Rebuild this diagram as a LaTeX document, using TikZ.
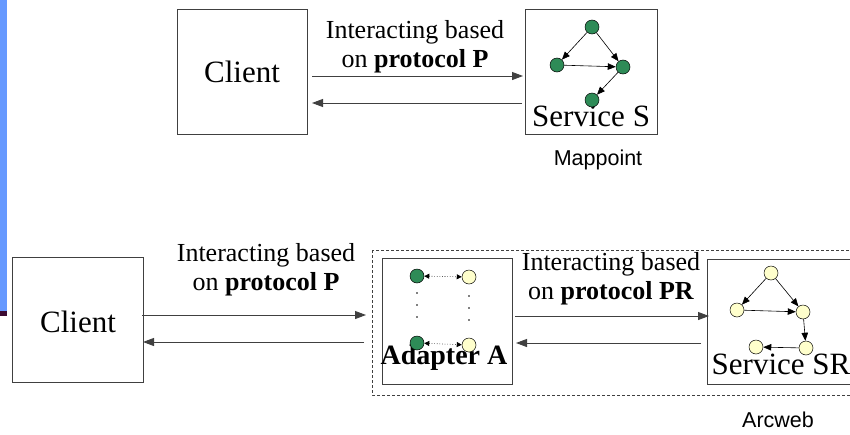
\documentclass[tikz,border=0pt]{standalone}
\usepackage{fontspec}
\setmainfont{Liberation Serif}
\newfontfamily\arialf{Liberation Sans}
\usetikzlibrary{arrows.meta}
\definecolor{nodegreen}{RGB}{46,139,87}
\definecolor{nodeyellow}{RGB}{255,255,204}
\definecolor{barblue}{RGB}{102,153,255}
\definecolor{barpurple}{RGB}{60,10,50}
\tikzset{
  box/.style={draw=black!75, line width=0.9pt},
  gnode/.style={circle, draw=black, fill=nodegreen, minimum size=14pt, inner sep=0pt, line width=0.5pt},
  ynode/.style={circle, draw=black, fill=nodeyellow, minimum size=14pt, inner sep=0pt, line width=0.5pt},
  conn/.style={draw=black!75, line width=0.9pt, -{Triangle[length=11pt,width=8pt]}},
  inarr/.style={draw=black, line width=0.6pt, -{Triangle[length=8pt,width=6.5pt]}},
  dotarr/.style={draw=black, line width=0.6pt, dotted, {Triangle[length=5pt,width=5pt]}-{Triangle[length=5pt,width=5pt]}},
  lbl/.style={font=\fontsize{26}{29}\selectfont, align=center, inner sep=0pt},
  big/.style={font=\fontsize{31}{34}\selectfont, inner sep=0pt},
  small/.style={font=\arialf\fontsize{21.5}{23}\selectfont, inner sep=0pt},
}
\begin{document}
\begin{tikzpicture}[x=1pt,y=-1pt]
\useasboundingbox (0,0) rectangle (850,434);
\fill[white] (0,0) rectangle (850,434);
% left bar
\fill[barblue] (0,0) rectangle (6.5,311);
\fill[barpurple] (0,311) rectangle (7,316);

% ---------- top part ----------
\draw[box] (177,9) rectangle (307,134);
\node[big] (client1) at (242,72) {Client};
\draw[box] (525,9) rectangle (657,134);
\node[big] (serviceS) at (591,116) {Service S};
\node[gnode] (s1) at (592,27) {};
\node[gnode] (s2) at (557,65) {};
\node[gnode] (s3) at (623,67) {};
\node[gnode] (s4) at (592,100) {};
\draw[inarr] (s1) -- (s2);
\draw[inarr] (s1) -- (s3);
\draw[inarr] (s2) -- (s3);
\draw[inarr] (s3) -- (s4);
\node[small] (mappoint) at (598,160) {Mappoint};

\coordinate (a1s) at (312,76);
\coordinate (a1e) at (523,76);
\coordinate (b1s) at (522,103);
\coordinate (b1e) at (312,103);
\draw[conn] (a1s) -- (a1e);
\draw[conn] (b1s) -- (b1e);
\node[lbl] (t1) at (415,47) {Interacting based\\on \textbf{protocol P}};

% ---------- bottom part ----------
\draw[box] (12,257) rectangle (143,382);
\node[big] (client2) at (78,322) {Client};

\draw[black!75, line width=0.7pt, dashed, dash pattern=on 3pt off 2pt] (372,250) rectangle (853,395);

\draw[box] (382,258) rectangle (512,384);
\node[big, font=\bfseries\fontsize{28}{30}\selectfont] (adapter) at (444,358) {Adapter A};
\node[gnode] (ag1) at (417,276) {};
\node[ynode] (ay1) at (469,277) {};
\node[gnode] (ag2) at (417,343) {};
\node[ynode] (ay2) at (469,345) {};
\draw[dotarr] (ag1) -- (ay1);
\draw[dotarr] (ag2) -- (ay2);
\foreach \yy in {293,305,317} \fill (417,\yy) circle (0.9pt);
\foreach \yy in {296,308,320} \fill (469,\yy) circle (0.9pt);

\draw[box] (707,259) rectangle (853,384);
\node[big] (serviceSR) at (781,364) {Service SR};
\node[ynode] (r1) at (771,273) {};
\node[ynode] (r2) at (737,310) {};
\node[ynode] (r3) at (803,312) {};
\node[ynode] (r4) at (806,348) {};
\node[ynode] (r5) at (756,347) {};
\draw[inarr] (r1) -- (r2);
\draw[inarr] (r1) -- (r3);
\draw[inarr] (r2) -- (r3);
\draw[inarr] (r3) -- (r4);
\draw[inarr] (r4) -- (r5);
\node[small] (arcweb) at (778,420) {Arcweb};

\coordinate (a2s) at (142,315);
\coordinate (a2e) at (366,315);
\coordinate (b2s) at (364,342);
\coordinate (b2e) at (143,342);
\draw[conn] (a2s) -- (a2e);
\draw[conn] (b2s) -- (b2e);
\node[lbl] (t2) at (266,270) {Interacting based\\on \textbf{protocol P}};

\coordinate (a3s) at (515,316);
\coordinate (a3e) at (709,316);
\coordinate (b3s) at (701,343);
\coordinate (b3e) at (516,343);
\draw[conn] (a3s) -- (a3e);
\draw[conn] (b3s) -- (b3e);
\node[lbl] (t3) at (611,279) {Interacting based\\on \textbf{protocol PR}};
\end{tikzpicture}
\end{document}
